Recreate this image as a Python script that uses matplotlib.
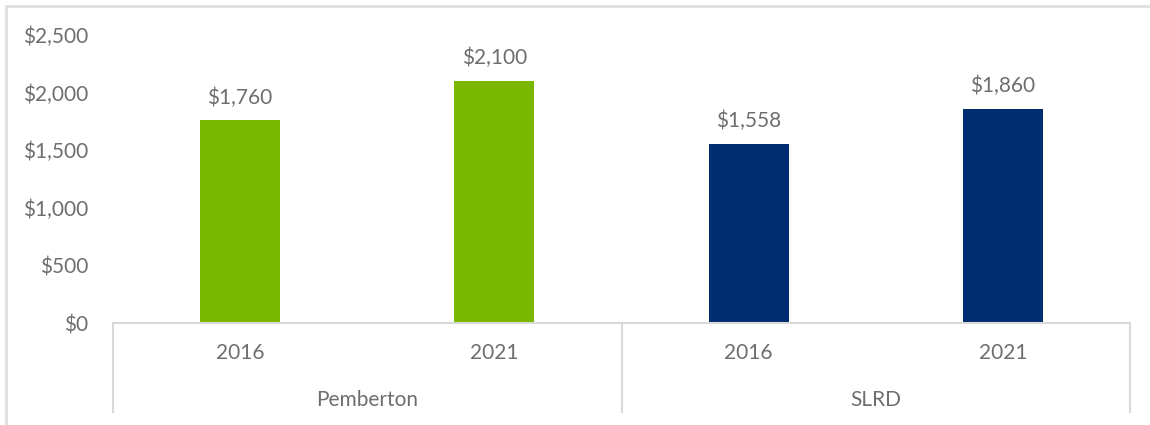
import matplotlib.pyplot as plt
import matplotlib.transforms as mtransforms
from matplotlib.patches import Rectangle

groups = ['Pemberton', 'SLRD']
years = ['2016', '2021', '2016', '2021']
values = [1760, 2100, 1558, 1860]
bar_colors = ['#7AB800', '#7AB800', '#002D72', '#002D72']
yticks = [0, 500, 1000, 1500, 2000, 2500]

plt.rcParams['font.family'] = ['Lato', 'DejaVu Sans']
text_color = '#6E6E6E'
line_color = '#D9D9D9'
fs = 15

fig = plt.figure(figsize=(11.5, 4.25), dpi=100)
W, H = 1150, 425
ax = fig.add_axes([113 / W, (H - 323) / H, (1130 - 113) / W, (323 - 35) / H])

x = list(range(len(values)))
bars = ax.bar(x, values, width=0.315, color=bar_colors)
ax.set_xlim(-0.5, len(values) - 0.5)
ax.set_ylim(0, 2500)

ax.set_yticks(yticks)
ax.set_yticklabels(['${:,}'.format(v) for v in yticks])
ax.tick_params(axis='y', length=0, pad=18, labelsize=fs, labelcolor=text_color)
ax.set_xticks([])
for s in ['top', 'right', 'left']:
    ax.spines[s].set_visible(False)
ax.spines['bottom'].set_color(line_color)
ax.spines['bottom'].set_linewidth(1.5)

for b, v in zip(bars, values):
    ax.annotate('${:,}'.format(v), (b.get_x() + b.get_width() / 2, v),
                xytext=(0, 9), textcoords='offset points',
                ha='center', va='bottom', fontsize=fs, color=text_color)

# multi-level category axis
trans = mtransforms.blended_transform_factory(ax.transData, fig.transFigure)
y_year = (H - 353) / H
y_group = (H - 400) / H
for xi, yr in zip(x, years):
    fig.text(xi, y_year, yr, transform=trans, ha='center', va='center',
             fontsize=fs, color=text_color)
for gi, g in enumerate(groups):
    fig.text(gi * 2 + 0.5, y_group, g, transform=trans, ha='center', va='center',
             fontsize=fs, color=text_color)
for xd in [-0.5, 1.5, 3.5]:
    fig.add_artist(plt.Line2D([xd, xd], [(H - 323) / H, (H - 412) / H],
                              transform=trans, color=line_color, lw=1.5))

# chart border
fig.add_artist(Rectangle((6 / W, -0.1), 1.2, (H - 6) / H + 0.1,
                         transform=fig.transFigure, fill=False,
                         edgecolor='#E0E0E0', lw=2))

fig.savefig('out.png', dpi=100)
